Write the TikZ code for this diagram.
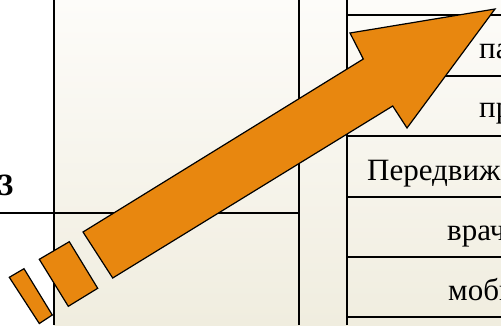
\documentclass[tikz,border=0pt]{standalone}
\usepackage{fontspec}
\setmainfont{Liberation Serif}
\usepackage{tikz}
\usetikzlibrary{calc,positioning}
\definecolor{SlideCream}{HTML}{F0EDDF}
\definecolor{SlideLight}{HTML}{FDFCF9}
\definecolor{ArrowOrange}{HTML}{E8870F}

\begin{document}
\begin{tikzpicture}[x=1pt,y=1pt,font=\fontsize{31pt}{34pt}\selectfont,
      grid/.style={line width=1.7pt,color=black},
      cell/.style={anchor=base west,inner sep=0pt},
      piece/.style={draw=black,fill=ArrowOrange,line width=1.2pt,line join=miter}]
  \useasboundingbox (0,0) rectangle (501,325);
  \clip (0,0) rectangle (501,325);
  \fill[white] (0,0) rectangle (54,325);
  \shade[top color=SlideLight,bottom color=SlideCream] (54,0) rectangle (501,325);
  % frame lines
  \draw[grid] (54,0) -- (54,325);
  \draw[grid] (299,0) -- (299,325);
  \draw[grid] (347,0) -- (347,325);
  \draw[grid] (0,112.3) -- (299,112.3);
  \foreach \y in {310.3,249.3,189.3,128.3,68.3,8.3}
    \draw[grid] (347,\y) -- (501,\y);
  % texts
  \node[cell,font=\fontsize{31pt}{34pt}\selectfont\bfseries] (yr) at (-2,130) {3};
  \node[cell] (pa) at (479,266.7) {па};
  \node[cell] (pr) at (479,208) {пр};
  \node[cell] (pd) at (367,144.3) {Передвиж};
  \node[cell] (vr) at (447,85) {врач};
  \node[cell] (mb) at (448,25) {моби};
  % arrow
  \draw[piece] (83,93) -- (112.7,47) -- (392.7,219) -- (407,197) -- (495,316)
    -- (350,292) -- (363.3,266) -- cycle;
  \draw[piece] (39.3,65.7) -- (69.3,83.3) -- (97.7,36.7) -- (68.3,18.7) -- cycle;
  \draw[piece] (9.3,47.7) -- (24,56.3) -- (52.3,10) -- (39.3,1.5) -- cycle;
\end{tikzpicture}
\end{document}
